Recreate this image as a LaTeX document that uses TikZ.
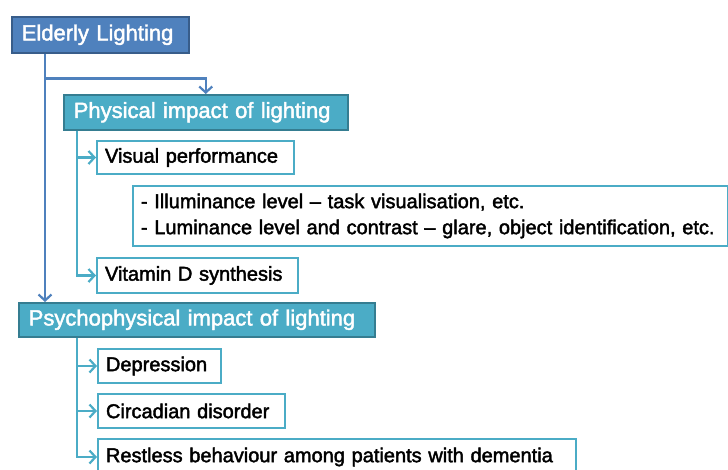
\documentclass[tikz,border=0pt]{standalone}
\usepackage{fontspec}
\setmainfont{Liberation Sans}
\newfontfamily\boxfont[Ligatures=TeX,FakeBold=2]{Liberation Sans}
\usetikzlibrary{arrows.meta,positioning,calc}

\definecolor{topblue}{HTML}{4F81BD}
\definecolor{topblueborder}{HTML}{385D8A}
\definecolor{tealfill}{HTML}{4BACC6}
\definecolor{tealborder}{HTML}{357D91}

\tikzset{
  topbox/.style={draw=topblueborder,fill=topblue,line width=1.5pt,text=white,
    anchor=north west,align=left,inner xsep=10pt,inner ysep=0pt,
    font=\boxfont\fontsize{22}{24}\selectfont},
  headbox/.style={draw=tealborder,fill=tealfill,line width=1.5pt,text=white,
    anchor=north west,align=left,inner xsep=10pt,inner ysep=0pt,
    font=\boxfont\fontsize{22}{24}\selectfont},
  itembox/.style={draw=tealfill,fill=white,line width=2pt,text=black,
    anchor=north west,align=left,inner xsep=8pt,inner ysep=0pt,
    font=\boxfont\fontsize{20}{26}\selectfont},
  bluearr/.style={draw=topblue,line width=2.2pt,-{Straight Barb[length=6pt,width=13pt]}},
  tealarr/.style={draw=tealfill,line width=2.2pt,-{Straight Barb[length=6pt,width=13pt]}}
}

\begin{document}
\begin{tikzpicture}[x=1pt,y=-1pt]
       \useasboundingbox (0,0) rectangle (728,469);
       % boxes
       \node[topbox,minimum height=36pt,text width=157pt] (elderly) at (11,16) {Elderly Lighting};
       \node[headbox,minimum height=35pt,text width=264pt] (physical) at (63,94) {Physical impact of lighting};
       \node[itembox,minimum height=33pt,text width=181pt] (visual) at (96,140) {Visual performance};
       \node[itembox,minimum height=60pt,text width=579pt] (details) at (132,185)
            {- Illuminance level -- task visualisation, etc.\\- Luminance level and contrast -- glare, object identification, etc.};
       \node[itembox,minimum height=35pt,text width=185pt] (vitamin) at (96,257) {Vitamin D synthesis};
       \node[headbox,minimum height=34pt,text width=336pt] (psycho) at (18,302) {Psychophysical impact of lighting};
       \node[itembox,minimum height=34pt,text width=107pt] (depression) at (97,348) {Depression};
       \node[itembox,minimum height=34pt,text width=171pt] (circadian) at (97,393) {Circadian disorder};
       \node[itembox,minimum height=36pt,text width=462pt] (restless) at (97,438) {Restless behaviour among patients with dementia};
       % connectors
       \coordinate (etrunk) at ([xshift=34pt]elderly.south west);
       \coordinate (ptrunk) at ([xshift=14pt]physical.south west);
       \coordinate (qtrunk) at ([xshift=59pt]psycho.south west);
       \draw[bluearr] (etrunk) -- (etrunk |- psycho.north);
       \draw[bluearr] ([yshift=-25pt]etrunk) -| (physical.north);
       \draw[tealarr] (ptrunk) |- (visual.west);
       \draw[tealarr] (ptrunk) |- (vitamin.west);
       \draw[tealarr] (qtrunk) |- (depression.west);
       \draw[tealarr] (qtrunk) |- (circadian.west);
       \draw[tealarr] (qtrunk) |- (restless.west);
     \end{tikzpicture}
\end{document}
